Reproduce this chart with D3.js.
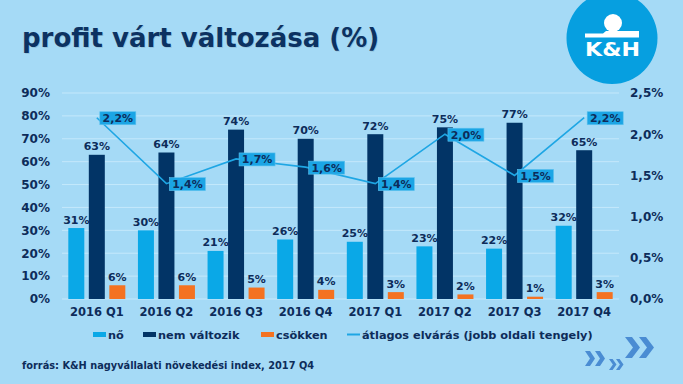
<!DOCTYPE html>
<html>
<head>
<meta charset="utf-8">
<script src="https://d3js.org/d3.v7.min.js"></script>
<style>
  html, body { margin: 0; padding: 0; background: #a5daf6; }
  svg { display: block; }
  text { font-family: "DejaVu Sans", Verdana, sans-serif; font-weight: bold; }
</style>
</head>
<body>
<div id="chart"></div>
<script>
// data
const categories = ["2016 Q1", "2016 Q2", "2016 Q3", "2016 Q4", "2017 Q1", "2017 Q2", "2017 Q3", "2017 Q4"];
const seriesNames = ["nő", "nem változik", "csökken"];
const noValues = [31, 30, 21, 26, 25, 23, 22, 32];
const nemValues = [63, 64, 74, 70, 72, 75, 77, 65];
const csokkenValues = [6, 6, 5, 4, 3, 2, 1, 3];
const avgValues = [2.2, 1.4, 1.7, 1.6, 1.4, 2.0, 1.5, 2.2];
const leftTicks = [0, 10, 20, 30, 40, 50, 60, 70, 80, 90];
const rightTicks = [0, 0.5, 1.0, 1.5, 2.0, 2.5];
const lineName = "átlagos elvárás (jobb oldali tengely)";

const colors = { "nő": "#0aa8e7", "nem változik": "#023466", "csökken": "#f47221" };
const lineColor = "#1ea6e4";
const navy = "#0d2c5a";

const W = 683, H = 384;
const svg = d3.select("#chart").append("svg").attr("width", W).attr("height", H);
svg.append("rect").attr("width", W).attr("height", H).attr("fill", "#a5daf6");

// title
svg.append("text").attr("x", 23).attr("y", 48).attr("fill", "rgba(0,0,0,0.1)")
  .style("font-size", "26px").text("profit várt változása (%)");
svg.append("text").attr("x", 22).attr("y", 47).attr("fill", "#0c3262")
  .style("font-size", "26px").text("profit várt változása (%)");

// logo
const logo = svg.append("g");
logo.append("ellipse").attr("cx", 612).attr("cy", 38).attr("rx", 45.5).attr("ry", 46).attr("fill", "#069fe0");
logo.append("circle").attr("cx", 613).attr("cy", 23).attr("r", 9).attr("fill", "white");
logo.append("path").attr("d", "M585,37.5 L585,33.5 L603,33.5 L606,31 L639,31 L639,37.5 Z").attr("fill", "white");
logo.append("text").attr("x", 585).attr("y", 56).attr("fill", "white")
  .attr("textLength", 55).attr("lengthAdjust", "spacingAndGlyphs")
  .style("font-size", "19px").text("K&H");

// scales
const x = d3.scaleBand().domain(categories).range([62, 619]).padding(0);
const x1 = d3.scaleBand().domain(seriesNames).range([0, 57]).paddingInner(0.22).paddingOuter(0);
const y = d3.scaleLinear().domain([0, 90]).range([299, 93]);
const y2 = d3.scaleLinear().domain([0, 2.5]).range([299, 93]);
const groupOffset = (x.bandwidth() - 57) / 2;
const comma = v => d3.format(".1f")(v).replace(".", ",");

// gridlines
svg.append("g").selectAll("line").data(leftTicks).enter().append("line")
  .attr("x1", 62).attr("x2", 619)
  .attr("y1", d => y(d)).attr("y2", d => y(d))
  .attr("stroke", "#c4e8fb").attr("stroke-width", 1);

// left axis
svg.append("g").attr("transform", "translate(50,0)")
  .call(d3.axisLeft(y).tickValues(leftTicks).tickSize(0).tickPadding(0).tickFormat(d => d + "%"))
  .call(g => g.select(".domain").remove())
  .selectAll("text").attr("fill", navy).style("font-size", "12px").style("font-family", "DejaVu Sans");

// right axis
svg.append("g").attr("transform", "translate(630,0)")
  .call(d3.axisRight(y2).tickValues(rightTicks).tickSize(0).tickPadding(0).tickFormat(d => comma(d) + "%"))
  .call(g => g.select(".domain").remove())
  .selectAll("text").attr("fill", navy).style("font-size", "12px").style("font-family", "DejaVu Sans");

// x axis labels
svg.append("g").attr("transform", "translate(0,305)")
  .call(d3.axisBottom(x).tickSize(0).tickPadding(0))
  .call(g => g.select(".domain").remove())
  .selectAll("text").attr("fill", navy).attr("dy", "0.93em")
  .style("font-size", "11.5px").style("font-family", "DejaVu Sans");

// bars
const seriesData = { "nő": noValues, "nem változik": nemValues, "csökken": csokkenValues };
const barData = [];
categories.forEach((c, i) => {
  seriesNames.forEach(s => barData.push({ cat: c, series: s, value: seriesData[s][i] }));
});

const bars = svg.append("g");
bars.selectAll("rect").data(barData).enter().append("rect")
  .attr("x", d => x(d.cat) + groupOffset + x1(d.series))
  .attr("y", d => y(d.value))
  .attr("width", x1.bandwidth())
  .attr("height", d => y(0) - y(d.value))
  .attr("fill", d => colors[d.series]);

bars.selectAll("text").data(barData).enter().append("text")
  .attr("x", d => x(d.cat) + groupOffset + x1(d.series) + x1.bandwidth() / 2)
  .attr("y", d => y(d.value) - 4.5)
  .attr("text-anchor", "middle").attr("fill", navy)
  .style("font-size", "11px").text(d => d.value + "%");

// line
const cx = c => x(c) + x.bandwidth() / 2;
svg.append("path").datum(avgValues)
  .attr("d", d3.line().x((d, i) => cx(categories[i])).y(d => y2(d)))
  .attr("fill", "none").attr("stroke", lineColor).attr("stroke-width", 1.6);

// line labels
const lbl = svg.append("g").selectAll("g").data(avgValues).enter().append("g")
  .attr("transform", (d, i) => `translate(${cx(categories[i]) + 3},${y2(d) + 0.5})`);
lbl.append("rect").attr("x", 0).attr("y", -6.5).attr("width", 36).attr("height", 13)
  .attr("fill", "#1ba5e5").attr("stroke", "#5cc2ee").attr("stroke-width", 0.6);
lbl.append("text").attr("x", 18).attr("y", 4).attr("text-anchor", "middle")
  .attr("fill", navy).style("font-size", "11px").text(d => comma(d) + "%");

// legend
const legendItems = [
  { name: "nő", x: 93, type: "rect" },
  { name: "nem változik", x: 143, type: "rect" },
  { name: "csökken", x: 261, type: "rect" },
  { name: lineName, x: 347, type: "line" }
];
const leg = svg.append("g").selectAll("g").data(legendItems).enter().append("g")
  .attr("transform", d => `translate(${d.x},0)`);
leg.filter(d => d.type === "rect").append("rect")
  .attr("x", 0).attr("y", 332).attr("width", 13).attr("height", 5)
  .attr("fill", d => colors[d.name]);
leg.filter(d => d.type === "line").append("line")
  .attr("x1", 0).attr("x2", 13).attr("y1", 334.5).attr("y2", 334.5)
  .attr("stroke", lineColor).attr("stroke-width", 2);
leg.append("text").attr("x", 15).attr("y", 338.5).attr("fill", navy)
  .style("font-size", "11.3px").text(d => d.name);

// source
svg.append("text").attr("x", 22).attr("y", 369).attr("fill", navy)
  .style("font-size", "9.8px").text("forrás: K&H nagyvállalati növekedési index, 2017 Q4");

// chevrons
function chevron(px, py, w, h, t) {
  return `M${px},${py} L${px + t},${py} L${px + w},${py + h / 2} L${px + t},${py + h} L${px},${py + h} L${px + w - t},${py + h / 2} Z`;
}
const chev = svg.append("g").attr("fill", "#4a8cd3");
[[625, 337, 15, 21, 7], [639, 337, 15, 21, 7],
 [585, 351, 10, 15, 5], [595, 351, 10, 15, 5],
 [609, 359, 7.5, 11, 3.6], [616, 359, 7.5, 11, 3.6]].forEach(p => {
  chev.append("path").attr("d", chevron(...p));
});
</script>
</body>
</html>
